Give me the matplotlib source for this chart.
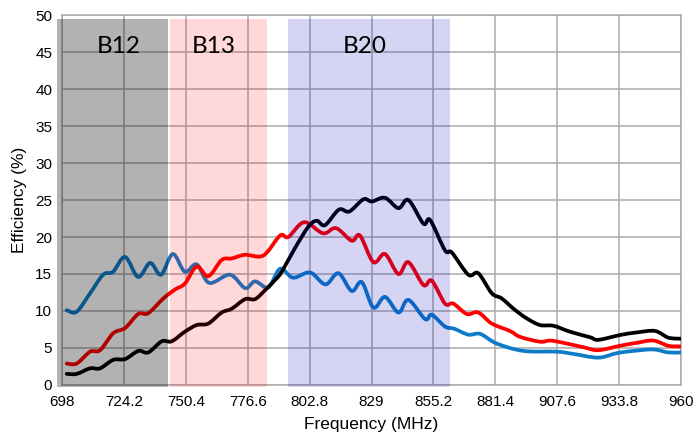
import matplotlib.pyplot as plt
import numpy as np
from matplotlib.path import Path
from matplotlib.patches import PathPatch

# Efficiency (%) versus frequency (MHz), three antenna states
freq_blue = [700, 704.2, 709.9, 715.4, 719.6, 724.7, 730.2, 735.3, 739.9, 744.9,
             750, 755, 760.3, 769.1, 775.5, 779.7, 785.3, 790.3, 795.8, 803,
             809.5, 815, 820.6, 824.9, 829.8, 834.7, 840.4, 844.6, 851.7, 854.5,
             860.1, 864, 870, 875, 882, 893.3, 907.4, 914.4, 925, 932.8,
             939.8, 948.3, 954.6, 960]
eff_blue = [10.1, 9.9, 12.4, 14.9, 15.3, 17.3, 14.6, 16.5, 14.9, 17.7,
            15.3, 16.3, 13.8, 14.9, 13.1, 14.0, 13.2, 15.7, 14.5, 15.2,
            13.6, 15.1, 12.7, 13.9, 10.45, 11.9, 9.8, 11.5, 8.9, 9.5,
            7.9, 7.6, 6.8, 6.9, 5.6, 4.6, 4.5, 4.2, 3.7, 4.3,
            4.6, 4.8, 4.4, 4.4]

freq_red = [700, 704.2, 709.9, 714.1, 719.7, 724.7, 730.3, 734.5, 740.9, 745.8,
            750, 755, 759.9, 765.6, 769.8, 775.5, 783.2, 790.3, 793.8, 800.5,
            808.5, 814, 820.6, 824.1, 829.8, 834.7, 840.4, 844.6, 851, 854.5,
            860.1, 863.6, 869.3, 874.2, 879.9, 887.6, 891.9, 900.3, 904.6, 910.2,
            918.7, 925, 934.2, 941.3, 948.3, 954.6, 960]
eff_red = [2.9, 2.9, 4.5, 4.7, 7.0, 7.7, 9.6, 9.7, 11.7, 12.9,
           13.7, 16.0, 14.7, 16.9, 17.1, 17.6, 17.5, 20.2, 20.0, 22.0,
           20.5, 21.2, 19.5, 20.2, 16.6, 17.7, 15.0, 16.6, 13.5, 14.1,
           11.0, 11.0, 9.6, 9.8, 8.3, 7.3, 6.5, 5.85, 6.0, 5.7,
           5.1, 4.7, 5.3, 5.7, 6.0, 5.3, 5.2]

freq_black = [700, 704.2, 709.9, 714.1, 719.7, 724.7, 730.3, 734.5, 740.2, 744.4,
              750, 755, 759.9, 765.6, 769.8, 775.5, 779.7, 783.9, 788.5, 791,
              796.6, 802.3, 805.8, 809.3, 815.2, 819.6, 825.6, 829.1, 834.7, 840.4,
              844.6, 851, 853.8, 860.1, 863, 870, 874.2, 879.9, 884.1, 889.5,
              894.7, 900.3, 906, 913, 921.5, 925, 934.2, 941.3, 949, 954.6,
              960]
eff_black = [1.5, 1.5, 2.25, 2.25, 3.4, 3.5, 4.6, 4.4, 5.9, 5.9,
             7.2, 8.1, 8.3, 9.8, 10.3, 11.6, 11.6, 12.8, 14.3, 15.3,
             18.5, 21.4, 22.2, 21.6, 23.7, 23.45, 25.1, 24.8, 25.3, 23.9,
             25.0, 21.8, 22.3, 18.2, 17.9, 14.9, 15.1, 12.4, 11.7, 10.2,
             9.0, 8.1, 8.0, 7.2, 6.45, 6.1, 6.75, 7.1, 7.3, 6.4,
             6.25]

# LTE bands shaded over the plot
band_names = ["B12", "B13", "B20"]
band_lo = [695.9, 743.7, 793.7]
band_hi = [742.9, 784.8, 862.2]
band_colors = [(0, 0, 0, 0.30), (1, 0, 0, 0.15), (0, 0, 0.72, 0.165)]
label_x = [712.8, 753.0, 816.9]

xticks = [698, 724.2, 750.4, 776.6, 802.8, 829, 855.2, 881.4, 907.6, 933.8, 960]
xtick_labels = ["698", "724.2", "750.4", "776.6", "802.8", "829", "855.2",
                "881.4", "907.6", "933.8", "960"]


def smooth_path(xs, ys):
    # cubic bezier through the points, like a spreadsheet "smoothed line"
    pts = np.column_stack([xs, ys])
    n = len(pts)
    verts = [pts[0]]
    codes = [Path.MOVETO]
    for i in range(n - 1):
        p0 = pts[max(i - 1, 0)]
        p1 = pts[i]
        p2 = pts[i + 1]
        p3 = pts[min(i + 2, n - 1)]
        c1 = p1 + (p2 - p0) / 6.0
        c2 = p2 - (p3 - p1) / 6.0
        verts += [c1, c2, p2]
        codes += [Path.CURVE4] * 3
    return Path(verts, codes)


fig = plt.figure(figsize=(6.93, 4.43), dpi=100)
ax = fig.add_axes([0.0895, 0.131, 0.8932, 0.835])

grid_col = "#ababab"
for v in xticks:
    ax.axvline(v, color=grid_col, lw=1.1, zorder=1)
for v in range(0, 51, 5):
    ax.axhline(v, color=grid_col, lw=1.1, zorder=1)

for xs, ys, col in [(freq_blue, eff_blue, "#0e7bc9"),
                    (freq_red, eff_red, "#ff0000"),
                    (freq_black, eff_black, "#000000")]:
    ax.add_patch(PathPatch(smooth_path(xs, ys), fill=False, edgecolor=col,
                           lw=2.7, capstyle="round", joinstyle="round", zorder=3))

for lo, hi, col in zip(band_lo, band_hi, band_colors):
    ax.fill_between([lo, hi], -0.27, 49.46, color=col, lw=0, zorder=4, clip_on=False)

for name, x in zip(band_names, label_x):
    ax.text(x, 44.9, name, fontsize=17.5, family="Lato", ha="left",
            va="baseline", zorder=5)

ax.set_xlim(698, 960)
ax.set_ylim(0, 50)
ax.set_xticks(xticks)
ax.set_xticklabels(xtick_labels)
ax.set_yticks(range(0, 51, 5))
ax.tick_params(length=0, labelsize=11, pad=7)
for lab in ax.get_xticklabels() + ax.get_yticklabels():
    lab.set_family("Liberation Sans")
for s in ax.spines.values():
    s.set_color(grid_col)
    s.set_linewidth(1.1)
ax.set_xlabel("Frequency (MHz)", fontsize=12.5, family="Liberation Sans", labelpad=6)
ax.set_ylabel("Efficiency (%)", fontsize=12.5, family="Liberation Sans", labelpad=6)

fig.savefig("out.png", dpi=100)
